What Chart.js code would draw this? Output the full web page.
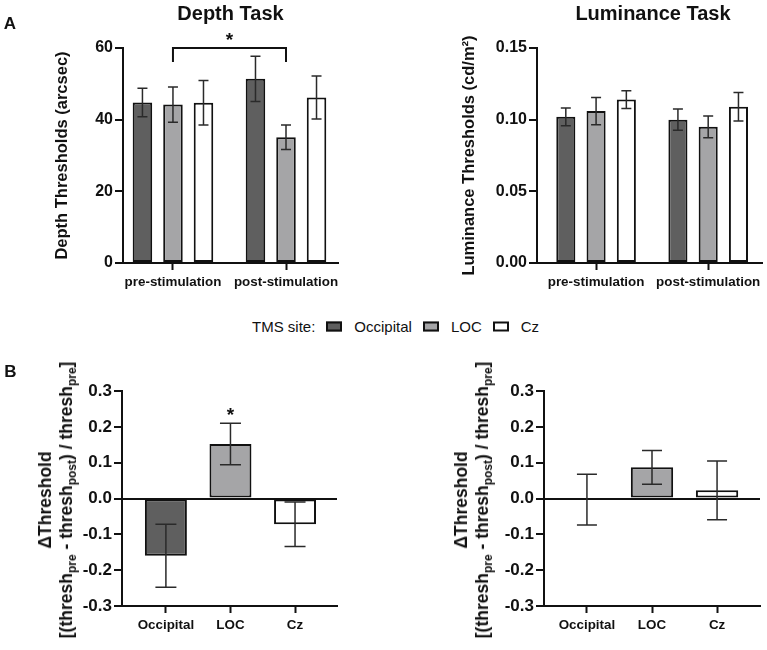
<!DOCTYPE html>
<html><head><meta charset="utf-8">
<script src="https://cdn.jsdelivr.net/npm/chart.js@4.4.0/dist/chart.umd.min.js"></script>
<style>
html,body{margin:0;padding:0;background:#fff;}
#root{position:relative;width:767px;height:650px;overflow:hidden;font-family:'Liberation Sans',Arial,sans-serif;color:#111;background:#fff;}
canvas{position:absolute;}
.lbl{position:absolute;white-space:nowrap;font-weight:bold;}
.ctr{transform:translate(-50%,-50%);}
.rot{transform:translate(-50%,-50%) rotate(-90deg);text-align:center;line-height:21px;font-size:17.5px;}
.rot sub{font-size:12px;vertical-align:-4px;line-height:0;}
#legend{position:absolute;left:252px;top:326px;transform:translateY(-50%);display:flex;align-items:center;font-size:15px;white-space:nowrap;}
#legend .box{display:inline-block;width:12px;height:6px;border:2px solid #111;margin-left:11px;margin-right:12px;}
</style></head>
<body>
<div id="root">
  <canvas id="c1" width="380" height="300" style="left:0;top:0"></canvas>
  <canvas id="c2" width="387" height="300" style="left:380px;top:0"></canvas>
  <canvas id="c3" width="380" height="310" style="left:0;top:340px"></canvas>
  <canvas id="c4" width="387" height="310" style="left:380px;top:340px"></canvas>
  <div class="lbl ctr" style="left:10px;top:24px;font-size:17px">A</div>
  <div class="lbl ctr" style="left:10.5px;top:372px;font-size:17px">B</div>
  <div class="lbl ctr" style="left:230.5px;top:12.5px;font-size:20px">Depth Task</div>
  <div class="lbl ctr" style="left:653px;top:12.5px;font-size:20px">Luminance Task</div>
  <div class="lbl rot" style="left:55.5px;top:500px"><div>ΔThreshold</div><div>[(thresh<sub>pre</sub> - thresh<sub>post</sub>) / thresh<sub>pre</sub>]</div></div>
  <div class="lbl rot" style="left:471.5px;top:500px"><div>ΔThreshold</div><div>[(thresh<sub>pre</sub> - thresh<sub>post</sub>) / thresh<sub>pre</sub>]</div></div>
  <div id="legend"></div>
</div>
<script>
// ---------- data ----------
const stimCategories = ['pre-stimulation', 'post-stimulation'];
const siteNames = ['Occipital', 'LOC', 'Cz'];
const siteColors = ['#5f5f5f', '#a5a5a7', '#ffffff'];

// Depth thresholds (arcsec), mean and error half-width, [pre, post]
const depthOccipital = [44.8, 51.4];
const depthLOC = [44.2, 35.1];
const depthCz = [44.7, 46.2];
const depthOccipitalErr = [4.0, 6.3];
const depthLOCErr = [4.9, 3.4];
const depthCzErr = [6.2, 6.0];
const depthTicks = [0, 20, 40, 60];

// Luminance thresholds (cd/m2), [pre, post]
const lumOccipital = [0.102, 0.100];
const lumLOC = [0.106, 0.095];
const lumCz = [0.114, 0.109];
const lumOccipitalErr = [0.0062, 0.0074];
const lumLOCErr = [0.0095, 0.0076];
const lumCzErr = [0.0062, 0.0099];
const lumTicks = [0, 0.05, 0.10, 0.15];

// Relative threshold change, [Occipital, LOC, Cz]
const deltaDepth = [-0.160, 0.152, -0.072];
const deltaDepthErr = [0.088, 0.058, 0.062];
const deltaLum = [-0.003, 0.087, 0.023];
const deltaLumErr = [0.071, 0.047, 0.082];
const deltaTicks = [-0.3, -0.2, -0.1, 0, 0.1, 0.2, 0.3];

// ---------- helpers ----------
Chart.defaults.font.family = "'Liberation Sans', Arial, sans-serif";
Chart.defaults.color = '#111';
const INK = '#111';

const errorBarPlugin = {
  id: 'errorBars',
  afterDatasetsDraw(chart, args, opts) {
    const ctx = chart.ctx, y = chart.scales.y;
    ctx.save();
    ctx.strokeStyle = opts.color; ctx.lineWidth = opts.width;
    chart.data.datasets.forEach((ds, di) => {
      const meta = chart.getDatasetMeta(di);
      meta.data.forEach((bar, i) => {
        const v = ds.data[i].y, e = opts.errs[di][i];
        const yt = y.getPixelForValue(v + e), yb = y.getPixelForValue(v - e);
        const x = bar.x, h = opts.capW / 2;
        ctx.beginPath();
        ctx.moveTo(x, yt); ctx.lineTo(x, yb);
        ctx.moveTo(x - h, yt); ctx.lineTo(x + h, yt);
        ctx.moveTo(x - h, yb); ctx.lineTo(x + h, yb);
        ctx.stroke();
      });
    });
    ctx.restore();
  }
};

const sigPlugin = {
  id: 'sig',
  afterDatasetsDraw(chart, args, opts) {
    const ctx = chart.ctx, y = chart.scales.y;
    ctx.save();
    ctx.strokeStyle = INK; ctx.fillStyle = INK; ctx.lineWidth = 2;
    ctx.font = 'bold 19px ' + Chart.defaults.font.family;
    ctx.textAlign = 'center'; ctx.textBaseline = 'alphabetic';
    (opts.brackets || []).forEach(b => {
      const x1 = chart.getDatasetMeta(b.from[0]).data[b.from[1]].x;
      const x2 = chart.getDatasetMeta(b.to[0]).data[b.to[1]].x;
      const yt = y.getPixelForValue(b.value), yd = y.getPixelForValue(b.drop);
      ctx.beginPath();
      ctx.moveTo(x1, yd); ctx.lineTo(x1, yt); ctx.lineTo(x2, yt); ctx.lineTo(x2, yd);
      ctx.stroke();
      ctx.fillText('*', (x1 + x2) / 2, yt - 2);
    });
    (opts.stars || []).forEach(s => {
      const x = chart.getDatasetMeta(s.ds).data[s.i].x;
      const yy = y.getPixelForValue(s.value);
      ctx.fillText('*', x, yy - 2);
    });
    ctx.restore();
  }
};

function fmt(d) { return v => (Math.abs(v) < 1e-9 ? 0 : v).toFixed(d); }

function makePanel(o) {
  const cats = o.cats;
  return new Chart(document.getElementById(o.id), {
    type: 'bar',
    data: { datasets: o.datasets },
    plugins: [errorBarPlugin, sigPlugin],
    options: {
      responsive: false, animation: false,
      layout: { padding: o.pad },
      datasets: { bar: { categoryPercentage: o.catPct, barPercentage: o.barPct, borderWidth: 2, borderColor: INK, borderSkipped: false } },
      plugins: {
        legend: { display: false }, tooltip: { enabled: false },
        errorBars: { errs: o.errs, capW: o.capW, color: '#2a2a2a', width: 1.5 },
        sig: o.sig || {}
      },
      scales: {
        x: {
          type: 'linear', min: o.xMin, max: o.xMax, offset: false,
          afterBuildTicks: s => { s.ticks = cats.map((c, i) => ({ value: i })); },
          afterFit: s => { s.height = 30; },
          border: { display: true, color: INK, width: 2 },
          grid: { offset: false, drawOnChartArea: false, drawTicks: true, tickLength: 7, tickWidth: 2, tickColor: INK },
          ticks: { callback: v => cats[v], font: { size: 13.4, weight: 'bold' }, color: INK, padding: 4, maxRotation: 0, autoSkip: false }
        },
        y: {
          min: o.yTicks[0], max: o.yTicks[o.yTicks.length - 1],
          afterBuildTicks: s => { s.ticks = o.yTicks.map(v => ({ value: v })); },
          afterFit: s => { s.width = o.yWidth; },
          border: { display: true, color: INK, width: 2 },
          grid: {
            drawOnChartArea: !!o.zeroLine, drawTicks: true, tickLength: 8, tickWidth: 2, tickColor: INK,
            color: c => (o.zeroLine && c.tick && Math.abs(c.tick.value) < 1e-9) ? INK : 'rgba(0,0,0,0)',
            lineWidth: 2
          },
          ticks: { callback: fmt(o.dec), font: { size: o.yFont, weight: 'bold' }, color: INK, padding: 2 },
          title: o.yTitle ? { display: true, text: o.yTitle, font: { size: 16.5, weight: 'bold' }, color: INK, padding: { top: 0, bottom: 0 } } : { display: false }
        }
      }
    }
  });
}

function grouped(series) {
  return siteNames.map((n, k) => ({
    label: n, backgroundColor: siteColors[k],
    data: stimCategories.map((c, j) => ({ x: j, y: series[k][j] }))
  }));
}
function single(vals) {
  return [{ label: 'Δ', backgroundColor: siteColors, data: siteNames.map((n, j) => ({ x: j, y: vals[j] })) }];
}

makePanel({
  id: 'c1', cats: stimCategories, datasets: grouped([depthOccipital, depthLOC, depthCz]),
  errs: [depthOccipitalErr, depthLOCErr, depthCzErr], capW: 10,
  xMin: -0.442, xMax: 1.46, catPct: 0.81, barPct: 0.64,
  pad: { top: 48, left: 53, right: 42, bottom: 7 }, yWidth: 70,
  yTicks: depthTicks, dec: 0, yFont: 16, yTitle: 'Depth Thresholds (arcsec)',
  sig: { brackets: [{ from: [1, 0], to: [1, 1], value: 60, drop: 56.1 }] }
});
makePanel({
  id: 'c2', cats: stimCategories, datasets: grouped([lumOccipital, lumLOC, lumCz]),
  errs: [lumOccipitalErr, lumLOCErr, lumCzErr], capW: 10,
  xMin: -0.527, xMax: 1.48, catPct: 0.81, barPct: 0.63,
  pad: { top: 48, left: 80, right: 5, bottom: 7 }, yWidth: 77,
  yTicks: lumTicks, dec: 2, yFont: 16, yTitle: 'Luminance Thresholds (cd/m²)'
});
makePanel({
  id: 'c3', cats: siteNames, datasets: single(deltaDepth),
  errs: [deltaDepthErr], capW: 21,
  xMin: -0.68, xMax: 2.65, catPct: 0.65, barPct: 1,
  pad: { top: 51, left: 80, right: 43, bottom: 14 }, yWidth: 42,
  yTicks: deltaTicks, dec: 1, yFont: 17, zeroLine: true,
  sig: { stars: [{ ds: 0, i: 1, value: deltaDepth[1] + deltaDepthErr[1] }] }
});
makePanel({
  id: 'c4', cats: siteNames, datasets: single(deltaLum),
  errs: [deltaLumErr], capW: 20,
  xMin: -0.66, xMax: 2.66, catPct: 0.65, barPct: 1,
  pad: { top: 51, left: 120, right: 7, bottom: 14 }, yWidth: 44,
  yTicks: deltaTicks, dec: 1, yFont: 17, zeroLine: true
});

// legend
const lg = document.getElementById('legend');
lg.appendChild(document.createTextNode('TMS site:'));
siteNames.forEach((n, k) => {
  const b = document.createElement('span'); b.className = 'box'; b.style.background = siteColors[k];
  lg.appendChild(b);
  const t = document.createElement('span'); t.textContent = n; lg.appendChild(t);
});
</script>
</body></html>
